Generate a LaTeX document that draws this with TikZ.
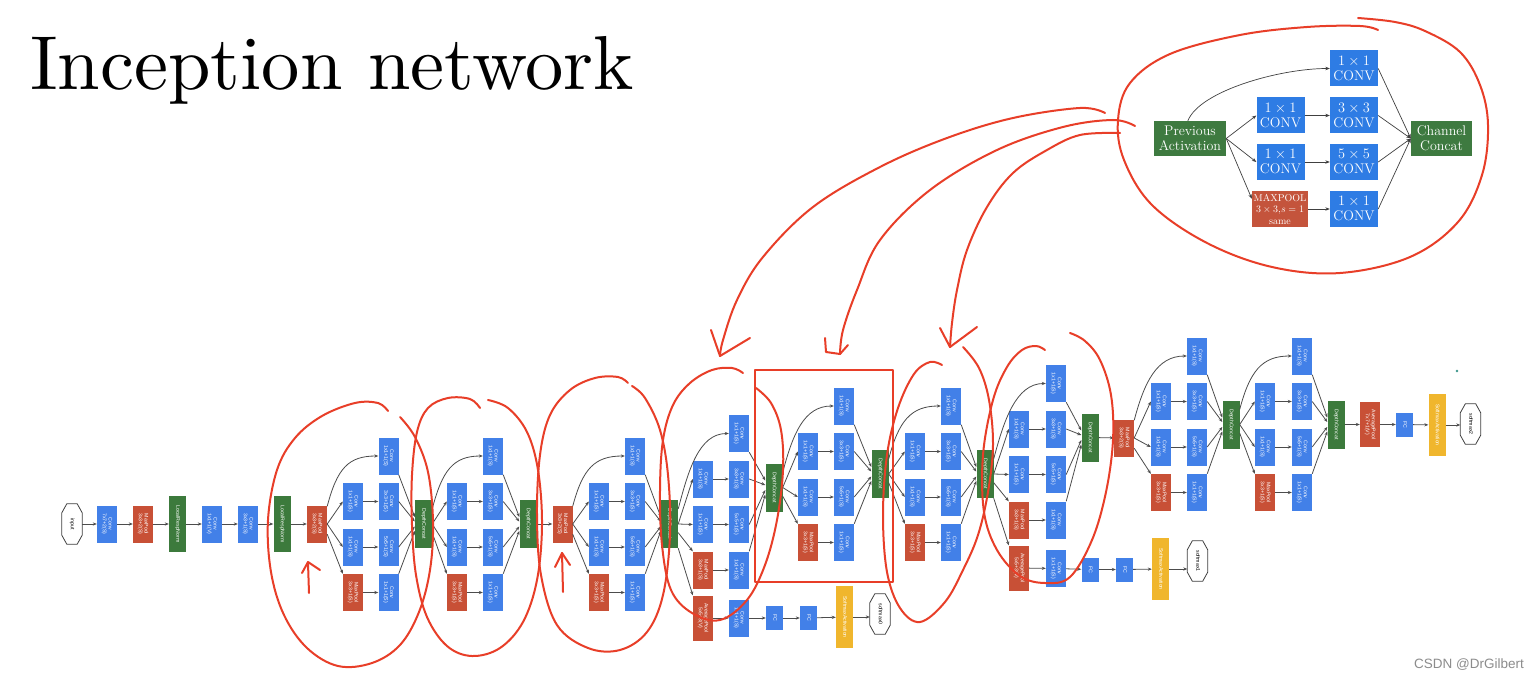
\documentclass[tikz,border=0pt]{standalone}
\usepackage{fontspec}
\usepackage{graphicx}
\usetikzlibrary{arrows.meta}
\newfontfamily\netfont{Liberation Sans}
\definecolor{gblue}{RGB}{66,128,232}
\definecolor{gred}{RGB}{200,80,54}
\definecolor{ggreen}{RGB}{60,122,60}
\definecolor{gyellow}{RGB}{240,182,45}
\definecolor{ared}{RGB}{232,62,40}
\definecolor{mblue}{RGB}{46,124,228}
\definecolor{mgreen}{RGB}{62,122,64}
\definecolor{mred}{RGB}{196,84,60}
\definecolor{dotteal}{RGB}{60,150,140}
\newcommand{\rlab}[1]{\rotatebox{-90}{\begin{tabular}{@{}c@{}}#1\end{tabular}}}
\newcommand{\octnode}[4]{%
  \node[octo] (#1) at (#2,#3) {\rlab{#4}};
  \draw[black!75, line width=0.8pt] ([xshift=5pt]#1.north west) -- ([xshift=-5pt]#1.north east) -- ([yshift=-9pt]#1.north east) -- ([yshift=9pt]#1.south east) -- ([xshift=-5pt]#1.south east) -- ([xshift=5pt]#1.south west) -- ([yshift=9pt]#1.south west) -- ([yshift=-9pt]#1.north west) -- cycle;}
% #1 prefix, #2 source, #3 col1 x, #4 col2 x, #5 concat x, #6 concat y, #7 first row y
\newcommand{\incep}[7]{%
  \node[conv] (#1b1) at ({#4},{#7}) {\rlab{Conv\\1x1+1(S)}};
  \node[conv] (#1b2) at ({#4},{#7+45.5}) {\rlab{Conv\\3x3+1(S)}};
  \node[conv] (#1b3) at ({#4},{#7+91}) {\rlab{Conv\\5x5+1(S)}};
  \node[conv] (#1b4) at ({#4},{#7+136.5}) {\rlab{Conv\\1x1+1(S)}};
  \node[conv] (#1a2) at ({#3},{#7+45.5}) {\rlab{Conv\\1x1+1(S)}};
  \node[conv] (#1a3) at ({#3},{#7+91}) {\rlab{Conv\\1x1+1(S)}};
  \node[pool] (#1a4) at ({#3},{#7+136.5}) {\rlab{MaxPool\\3x3+1(S)}};
  \node[dcat] (#1c) at ({#5},{#6}) {\rlab{DepthConcat}};
  \draw[ar] (#2.60) .. controls +(10,-38) and +(-30,0) .. (#1b1.west);
  \draw[ar] (#2.east) -- (#1a2.west);
  \draw[ar] (#2.east) -- (#1a3.west);
  \draw[ar] (#2.-45) -- (#1a4.north west);
  \draw[ar] (#1a2) -- (#1b2);
  \draw[ar] (#1a3) -- (#1b3);
  \draw[ar] (#1a4) -- (#1b4);
  \draw[ar] (#1b1.south east) -- ([yshift=7pt]#1c.west);
  \draw[ar] (#1b2.east) -- ([yshift=2.5pt]#1c.west);
  \draw[ar] (#1b3.east) -- ([yshift=-2.5pt]#1c.west);
  \draw[ar] (#1b4.north east) -- ([yshift=-7pt]#1c.west);}
\begin{document}
\begin{tikzpicture}[x=1pt,y=-1pt,
  nb/.style={inner sep=0pt, text=white, font=\netfont\fontsize{5.2}{5.8}\selectfont},
  conv/.style={nb, fill=gblue, minimum width=20pt, minimum height=37pt},
  pool/.style={nb, fill=gred, minimum width=20pt, minimum height=37pt},
  avgp/.style={nb, fill=gred, minimum width=20pt, minimum height=45pt},
  dcat/.style={nb, fill=ggreen, minimum width=17pt, minimum height=48pt},
  lrn/.style={nb, fill=ggreen, minimum width=17pt, minimum height=56pt},
  fc/.style={nb, fill=gblue, minimum width=17pt, minimum height=24pt},
  smact/.style={nb, fill=gyellow, minimum width=17pt, minimum height=62pt},
  octo/.style={nb, text=black, minimum width=20pt, minimum height=40pt},
  ar/.style={-{Stealth[length=4pt,width=3.2pt]}, draw=black!70, line width=0.8pt},
  mar/.style={-{Stealth[length=4.5pt,width=3.5pt]}, draw=black!75, line width=0.7pt},
  mbox/.style={inner sep=0pt, text=white, align=center, font=\fontsize{14}{15}\selectfont, minimum width=48pt, minimum height=36pt},
  annot/.style={draw=ared, line width=2pt, line cap=round, line join=round}]
\useasboundingbox (0,0) rectangle (1539,679);
\fill[white] (0,0) rectangle (1539,679);

% title
\node[anchor=base west, inner sep=0pt] (title) at (30,90) {\scalebox{7.65}{\fontsize{10}{12}\selectfont Inception network}};

% ---------------- inception module (top right) ----------------
\node[mbox, fill=mgreen, minimum width=72pt, minimum height=35pt] (prev) at (1190,138.5) {Previous\\Activation};
\node[mbox, fill=mblue] (m1) at (1354,68.5) {$1\times1$\\CONV};
\node[mbox, fill=mblue] (m2a) at (1280.5,115.5) {$1\times1$\\CONV};
\node[mbox, fill=mblue] (m2b) at (1354,115.5) {$3\times3$\\CONV};
\node[mbox, fill=mblue] (m3a) at (1280.5,162) {$1\times1$\\CONV};
\node[mbox, fill=mblue] (m3b) at (1354,162) {$5\times5$\\CONV};
\node[mbox, fill=mred, minimum width=56pt, font=\fontsize{10}{11.5}\selectfont] (m4a) at (1280,209) {MAXPOOL\\$3\times3$,$s=1$\\same};
\node[mbox, fill=mblue] (m4b) at (1354,209) {$1\times1$\\CONV};
\node[mbox, fill=mgreen, minimum width=61pt, minimum height=35pt] (cc) at (1441.5,138.5) {Channel\\Concat};
\draw[mar] (prev.97) .. controls +(12,-30) and +(-50,0) .. (m1.west);
\draw[mar] (prev.east) -- (m2a.west);
\draw[mar] (prev.east) -- (m3a.west);
\draw[mar] (prev.east) -- (m4a.160);
\draw[mar] (m2a) -- (m2b);
\draw[mar] (m3a) -- (m3b);
\draw[mar] (m4a) -- (m4b);
\draw[mar] (m1.east) -- (cc.west);
\draw[mar] (m2b.east) -- (cc.west);
\draw[mar] (m3b.east) -- (cc.west);
\draw[mar] (m4b.east) -- (cc.west);

% ---------------- GoogLeNet ----------------
\octnode{inp}{72}{524}{input}
\node[conv] (c1) at (107,524) {\rlab{Conv\\7x7+2(S)}};
\node[pool] (mp1) at (143,524) {\rlab{MaxPool\\3x3+2(S)}};
\node[lrn] (lrn1) at (177.5,524) {\rlab{LocalRespNorm}};
\node[conv] (c2) at (212,524) {\rlab{Conv\\1x1+1(V)}};
\node[conv] (c3) at (248,524) {\rlab{Conv\\3x3+1(S)}};
\node[lrn] (lrn2) at (282,524) {\rlab{LocalRespNorm}};
\node[pool] (mp2) at (317,524) {\rlab{MaxPool\\3x3+2(S)}};
\draw[ar] (inp) -- (c1);
\draw[ar] (c1) -- (mp1);
\draw[ar] (mp1) -- (lrn1);
\draw[ar] (lrn1) -- (c2);
\draw[ar] (c2) -- (c3);
\draw[ar] (c3) -- (lrn2);
\draw[ar] (lrn2) -- (mp2);

\incep{ta}{mp2}{353}{388.5}{423.5}{524}{456}
\incep{tb}{tac}{457}{493}{528}{524}{456}
\node[pool] (mp3) at (562.5,524) {\rlab{MaxPool\\3x3+2(S)}};
\draw[ar] (tbc) -- (mp3);
\incep{fa}{mp3}{599}{635}{669.5}{524}{456}
\incep{fb}{fac}{703}{739}{774}{487.5}{433.5}
% auxiliary classifier 0
\node[avgp] (ax0) at (703,618) {\rlab{AveragePool\\5x5+3(V)}};
\node[conv] (ax0c) at (739,618) {\rlab{Conv\\1x1+1(S)}};
\node[fc] (ax0f1) at (774.5,618) {\rlab{FC}};
\node[fc] (ax0f2) at (808.5,618) {\rlab{FC}};
\node[smact] (ax0s) at (844.5,617) {\rlab{SoftmaxActivation}};
\octnode{sm0}{880}{614}{softmax0}
\draw[ar] (fac.south east) -- (ax0.north west);
\draw[ar] (ax0) -- (ax0c);
\draw[ar] (ax0c) -- (ax0f1);
\draw[ar] (ax0f1) -- (ax0f2);
\draw[ar] (ax0f2) -- (ax0s);
\draw[ar] (ax0s.east) -- (ax0s.east -| sm0.west);

\incep{fc}{fbc}{808}{844}{880}{474}{406}
\incep{fd}{fcc}{915}{951}{985}{474}{406}
\incep{fe}{fdc}{1019}{1056}{1090}{437.5}{383.5}
% auxiliary classifier 1
\node[avgp] (ax1) at (1019,568) {\rlab{AveragePool\\5x5+3(V)}};
\node[conv] (ax1c) at (1056,568.5) {\rlab{Conv\\1x1+1(S)}};
\node[fc] (ax1f1) at (1090,569.5) {\rlab{FC}};
\node[fc] (ax1f2) at (1124.5,569.5) {\rlab{FC}};
\node[smact] (ax1s) at (1160.5,569) {\rlab{SoftmaxActivation}};
\octnode{sm1}{1197.5}{561}{softmax1}
\draw[ar] (fdc.south east) -- (ax1.north west);
\draw[ar] (ax1) -- (ax1c);
\draw[ar] (ax1c) -- (ax1f1);
\draw[ar] (ax1f1) -- (ax1f2);
\draw[ar] (ax1f2) -- (ax1s);
\draw[ar] (ax1s.east) -- (ax1s.east -| sm1.west);

\node[pool] (mp4) at (1124,438) {\rlab{MaxPool\\3x3+2(S)}};
\draw[ar] (fec) -- (mp4);
\incep{va}{mp4}{1161}{1197}{1231}{424.5}{356}
\incep{vb}{vac}{1265}{1302}{1336}{424.5}{356}
\node[avgp] (avg7) at (1370,424.5) {\rlab{AveragePool\\7x7+1(V)}};
\node[fc] (fc5) at (1404.5,424.5) {\rlab{FC}};
\node[smact] (sm3s) at (1437,425) {\rlab{SoftmaxActivation}};
\octnode{sm2}{1470.5}{424}{softmax2}
\draw[ar] (vbc) -- (avg7);
\draw[ar] (avg7) -- (fc5);
\draw[ar] (fc5) -- (sm3s);
\draw[ar] (sm3s.east) -- (sm3s.east -| sm2.west);

\fill[dotteal] (1457,371) circle (1.3);

% ---------------- red annotations ----------------
\draw[annot] plot[smooth, tension=0.6] coordinates {(1358,18) (1395,22) (1425,31) (1460,52) (1480,85) (1488,125) (1482,175) (1458,222) (1410,257) (1340,273) (1272,267) (1207,243) (1152,205) (1124,160) (1118,120) (1130,83) (1170,54) (1240,35) (1307,27) (1360,26) (1378,30)};
% arrows from the module
\draw[annot] plot[smooth, tension=0.6] coordinates {(1105,113) (1080,108) (1013,118) (947,138) (880,167) (813,207) (763,257) (737,300) (723,340) (720,356)};
\draw[annot] (711,330) -- (720,356) -- (750,338);
\draw[annot] plot[smooth, tension=0.6] coordinates {(1135,126) (1113,120) (1063,127) (997,150) (930,190) (880,240) (857,290) (843,330) (840,354)};
\draw[annot] (825,338) -- (826,352) -- (840,354) -- (848,345);
\draw[annot] plot[smooth, tension=0.6] coordinates {(1120,133) (1080,135) (1047,150) (1013,173) (987,207) (967,250) (957,290) (952,323) (950,347)};
\draw[annot] (940,328) -- (950,347) -- (977,327);
% loops round the modules
\draw[annot] plot[smooth, tension=0.6] coordinates {(388,411) (378,403) (355,403) (322,416) (295,438) (277,470) (268,520) (271,572) (284,615) (307,648) (338,666) (372,663) (400,645) (419,612) (430,570) (433,522) (428,472) (415,437) (400,417)};
\draw[annot] plot[smooth, tension=0.6] coordinates {(480,408) (470,399) (448,398) (428,408) (417,432) (412,475) (412,525) (416,575) (427,617) (447,646) (472,656) (500,648) (523,622) (537,580) (542,525) (538,470) (527,432) (508,408) (488,400)};
\draw[annot] plot[smooth, tension=0.6] coordinates {(628,383) (618,377) (595,378) (570,390) (550,415) (540,455) (537,515) (541,575) (557,625) (588,648) (620,650) (647,632) (663,595) (670,535) (668,475) (660,430) (645,398) (632,386)};
\draw[annot] plot[smooth, tension=0.6] coordinates {(743,373) (732,368) (712,370) (690,383) (673,405) (663,440) (660,490) (662,545) (671,590) (692,613) (720,620) (747,600) (765,565) (777,520) (783,470) (781,430) (771,403) (756,388)};
\draw[annot] (755,370) rectangle (893,582);
\draw[annot] plot[smooth, tension=0.6] coordinates {(942,365) (930,362) (914,374) (898,408) (887,455) (883,515) (887,572) (900,608) (920,622) (945,602) (963,570) (978,535) (988,492) (993,445) (989,400) (979,368) (963,347)};
\draw[annot] plot[smooth, tension=0.6] coordinates {(1045,350) (1036,346) (1022,350) (1007,367) (993,400) (983,455) (984,512) (997,550) (1020,576) (1045,583) (1070,577) (1092,540) (1106,492) (1113,440) (1111,395) (1100,360) (1085,341) (1070,333)};
% small up arrows
\draw[annot] (309,593) -- (308,563);
\draw[annot] (302,573) -- (308,562) -- (320,570);
\draw[annot] (563,592) -- (562,553);
\draw[annot] (555,567) -- (562,553) -- (570,565);

% watermark
\node[anchor=base east, inner sep=0pt, text=black!45, font=\netfont\fontsize{13.5}{14}\selectfont] (wm) at (1524,668) {CSDN @DrGilbert};
\end{tikzpicture}
\end{document}
